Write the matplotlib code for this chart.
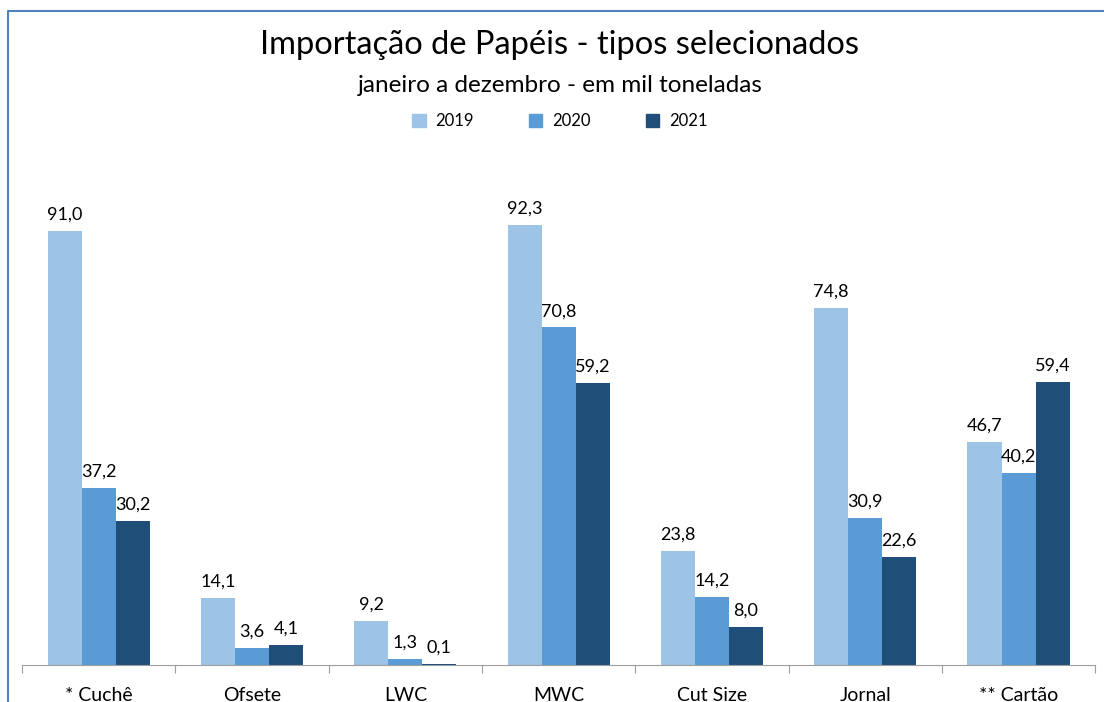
import numpy as np
import matplotlib
matplotlib.use("Agg")
import matplotlib.pyplot as plt
from matplotlib.lines import Line2D
from matplotlib.patches import Patch

plt.rcParams['font.family'] = ['Lato', 'DejaVu Sans']

# data (mil toneladas)
categories = ["* Cuchê", "Ofsete", "LWC", "MWC", "Cut Size", "Jornal", "** Cartão"]
years = ["2019", "2020", "2021"]
v2019 = [91.0, 14.1, 9.2, 92.3, 23.8, 74.8, 46.7]
v2020 = [37.2, 3.6, 1.3, 70.8, 14.2, 30.9, 40.2]
v2021 = [30.2, 4.1, 0.1, 59.2, 8.0, 22.6, 59.4]
colors = ["#9DC3E6", "#5B9BD5", "#1F4E79"]

fig = plt.figure(figsize=(11.04, 7.02), dpi=100)
ax = fig.add_axes([0.02, 0.053, 0.972, 0.733])

x = np.arange(len(categories))
w = 0.222
series = [v2019, v2020, v2021]
for i, (vals, c) in enumerate(zip(series, colors)):
    pos = x + (i - 1) * w
    bars = ax.bar(pos, vals, width=w, color=c, label=years[i])
    for b, v in zip(bars, vals):
        ax.annotate(f"{v:.1f}".replace(".", ","),
                    (b.get_x() + b.get_width() / 2, v),
                    xytext=(0, 6), textcoords="offset points",
                    ha="center", va="bottom", fontsize=13, color="#000000")

ax.set_xlim(-0.5, len(categories) - 0.5)
ax.set_ylim(0, 108)
ax.set_yticks([])
for s in ["top", "right", "left"]:
    ax.spines[s].set_visible(False)
ax.spines["bottom"].set_color("#9E9E9E")
ax.set_xticks(np.arange(len(categories) + 1) - 0.5, minor=False)
ax.set_xticklabels([])
ax.tick_params(axis="x", which="major", length=6, color="#9E9E9E")
ax.set_xticks(x, minor=True)
ax.set_xticklabels(categories, minor=True, fontsize=14)
ax.tick_params(axis="x", which="minor", length=0, pad=16)

cx = 560 / 1104
fig.text(cx, 1 - 45 / 702, "Importação de Papéis - tipos selecionados",
         ha="center", va="center", fontsize=23.5)
fig.text(cx, 1 - 85 / 702, "janeiro a dezembro - em mil toneladas",
         ha="center", va="center", fontsize=17.5)

handles = [Patch(color=c) for c in colors]
fig.legend(handles, years, loc="center", bbox_to_anchor=(cx, 1 - 121 / 702),
           ncol=3, frameon=False, fontsize=12, handlelength=0.8, handleheight=0.8,
           handletextpad=0.6, columnspacing=3.3)

# chart border (top and left visible)
fig.add_artist(Line2D([8 / 1104, 8 / 1104, 1.0], [0.0, 1 - 11 / 702, 1 - 11 / 702],
                      transform=fig.transFigure, color="#4F81BD", lw=1.5))

fig.savefig("out.png", dpi=100)
